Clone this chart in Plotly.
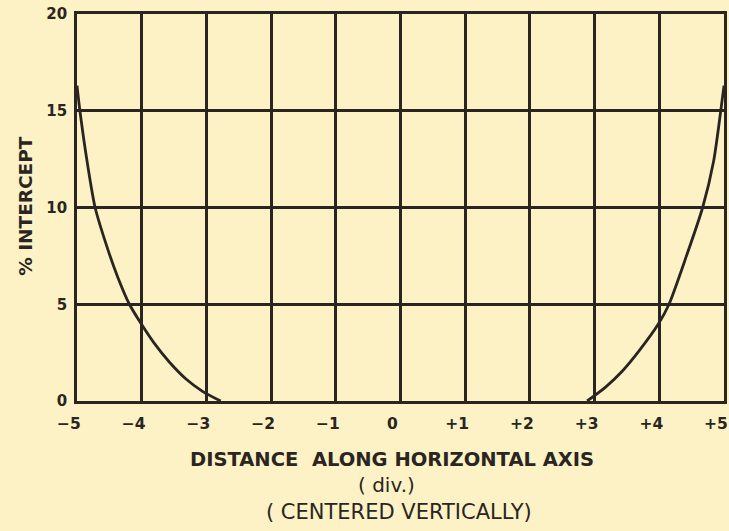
import plotly.graph_objects as go

# Data
left_x = [-5.0, -4.955, -4.845, -4.72, -4.53, -4.37, -4.19, -4.01, -3.81, -3.57, -3.32, -3.06, -2.78]
left_y = [16.3, 15.0, 12.4, 10.0, 7.9, 6.4, 5.0, 4.0, 3.0, 2.0, 1.15, 0.5, 0.0]
right_x = [2.885, 3.17, 3.43, 3.69, 3.99, 4.15, 4.42, 4.67, 4.84, 4.95, 5.0]
right_y = [0.0, 0.72, 1.55, 2.6, 4.0, 5.0, 7.5, 10.0, 12.4, 15.0, 16.3]

x_tickvals = [-5, -4, -3, -2, -1, 0, 1, 2, 3, 4, 5]
x_ticktext = ["\u22125", "\u22124", "\u22123", "\u22122", "\u22121", "0", "+1", "+2", "+3", "+4", "+5"]
y_tickvals = [0, 5, 10, 15, 20]
y_ticktext = ["0", "5", "10", "15", "20"]

INK = "#2a2521"
BG = "#fdf2c6"
FONT = "DejaVu Sans"

fig = go.Figure()
for xs, ys in [(left_x, left_y), (right_x, right_y)]:
    fig.add_trace(go.Scatter(x=xs, y=ys, mode="lines",
                             line=dict(color=INK, width=2.8, shape="spline", smoothing=0.7),
                             showlegend=False, hoverinfo="skip", cliponaxis=False))

axis_common = dict(showgrid=True, gridcolor=INK, gridwidth=2.7,
                   showline=True, linecolor=INK, linewidth=2.7, mirror=True,
                   zeroline=False, ticks="", fixedrange=True, automargin=False,
                   ticklabeloverflow="allow")

fig.update_xaxes(range=[-5, 5], tickvals=x_tickvals, ticktext=x_ticktext,
                 tickfont=dict(family=FONT, size=15.5, color=INK, weight="bold"),
                 ticklabelstandoff=7, ticklabelshift=-8, **axis_common)
fig.update_yaxes(range=[0, 20], tickvals=y_tickvals, ticktext=y_ticktext,
                 tickfont=dict(family=FONT, size=15, color=INK, weight="bold"),
                 ticklabelstandoff=4, **axis_common)

annotations = [
    dict(text="DISTANCE&nbsp;&nbsp;ALONG HORIZONTAL AXIS", x=0.487, y=-0.152,
         font=dict(family=FONT, size=19.5, color=INK, weight="bold")),
    dict(text="( div.)", x=0.478, y=-0.217,
         font=dict(family=FONT, size=20, color=INK)),
    dict(text="( CENTERED VERTICALLY)", x=0.498, y=-0.287,
         font=dict(family=FONT, size=21, color=INK)),
]
for a in annotations:
    fig.add_annotation(xref="paper", yref="paper", showarrow=False,
                       xanchor="center", yanchor="middle", **a)

fig.add_annotation(text="% INTERCEPT", xref="paper", yref="paper",
                   x=-0.08, y=0.505, xanchor="center", yanchor="middle",
                   textangle=-90, showarrow=False,
                   font=dict(family=FONT, size=18.5, color=INK, weight="bold"))

fig.update_layout(width=729, height=531, paper_bgcolor=BG, plot_bgcolor=BG,
                  margin=dict(l=77, r=5, t=14, b=130), showlegend=False)

fig.write_html("out.html", config={"displayModeBar": False},
               post_script="document.body.style.margin='0';"
                           "document.body.style.overflow='hidden';"
                           "document.body.style.background='" + BG + "';")
